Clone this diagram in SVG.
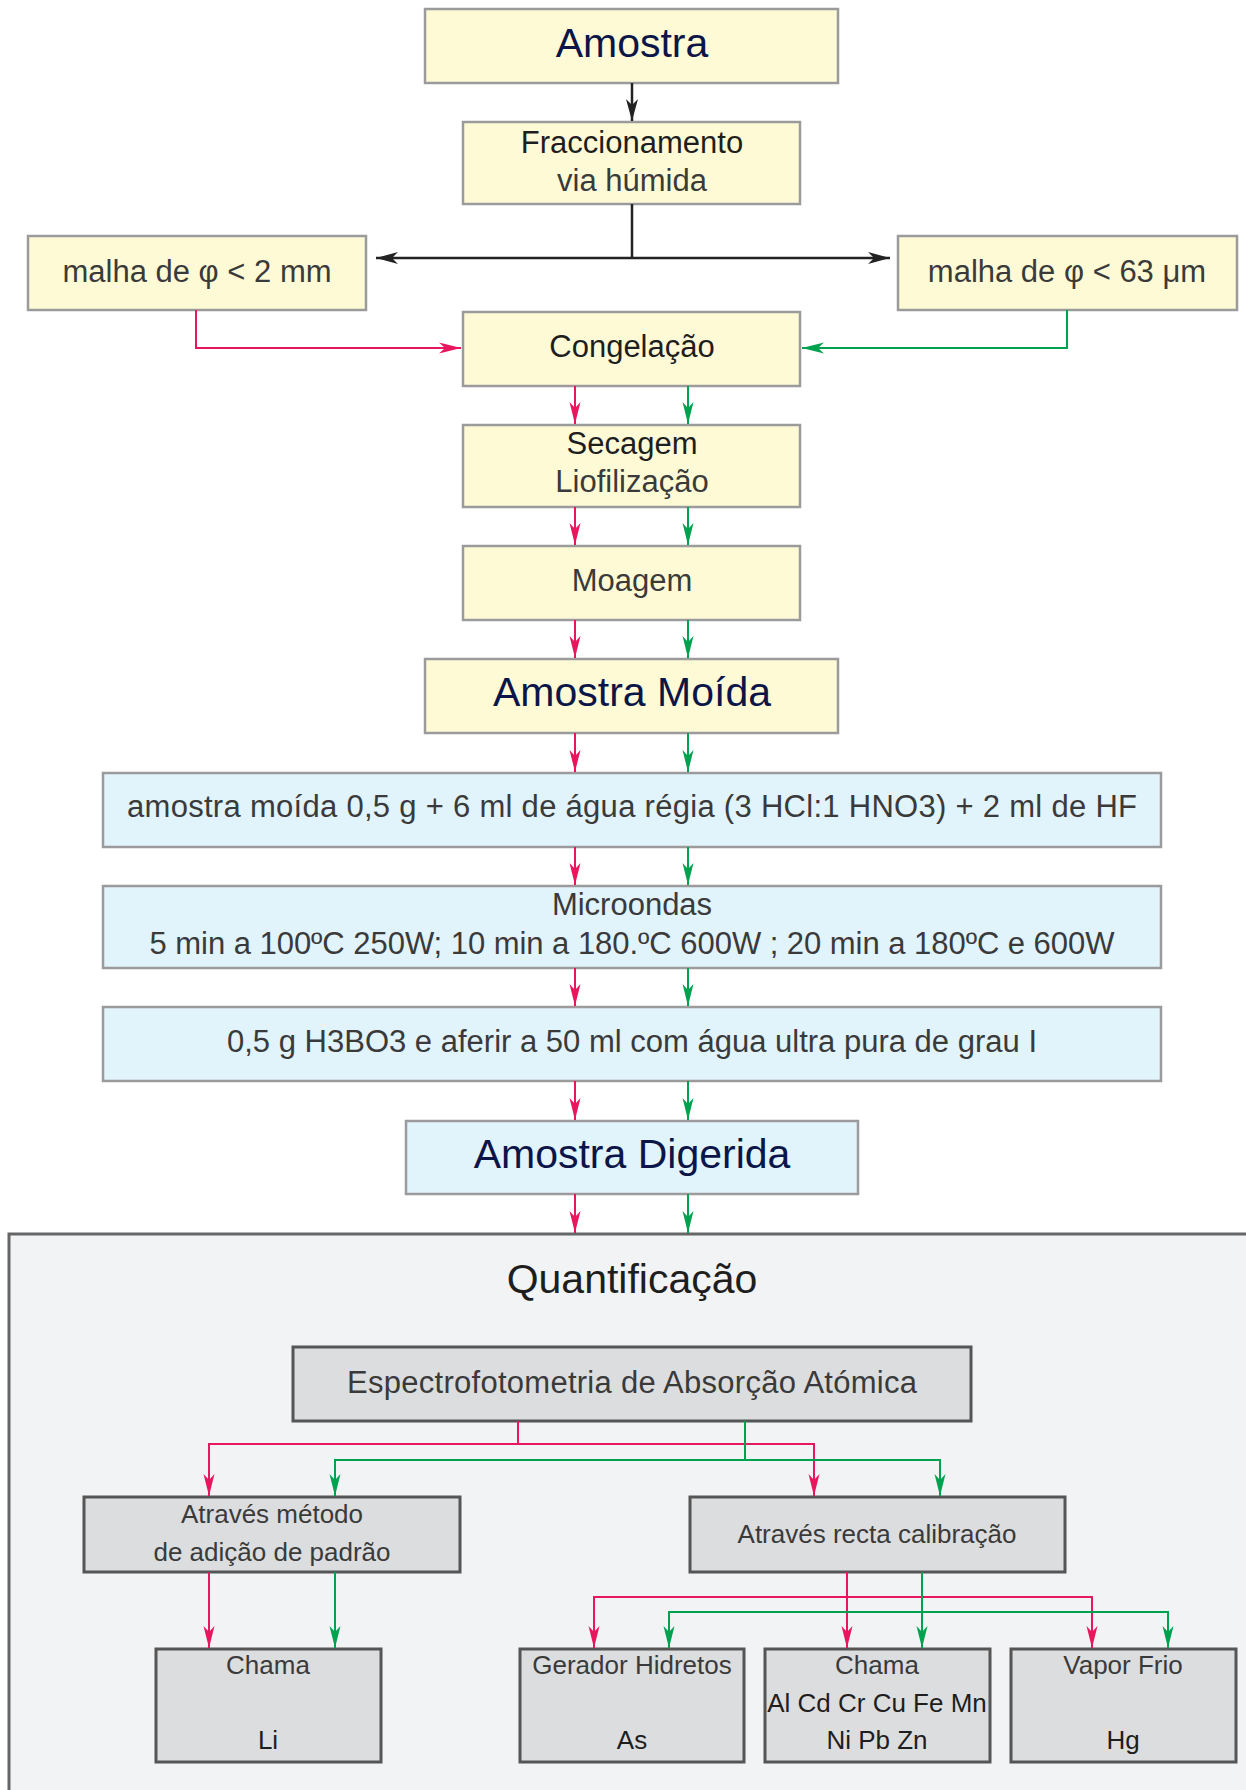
<svg xmlns="http://www.w3.org/2000/svg" width="1246" height="1790" viewBox="0 0 1246 1790">
<defs>
<style>
.y{fill:#FFFAD6;stroke:#9B9B9B;stroke-width:2.5}
.b{fill:#E1F3FB;stroke:#9B9B9B;stroke-width:2.5}
.g{fill:#DCDDDF;stroke:#555;stroke-width:3}
.p{fill:#F2F3F5;stroke:#666;stroke-width:3}
text{font-family:"Liberation Sans",Arial,Helvetica,sans-serif;text-anchor:middle}
.t{font-size:41px;fill:#0C1548}
.q{font-size:41px;fill:#1E1E1E}
.m{font-size:31px;fill:#1E1E1E}
.l{font-size:31px;fill:#3A3A3A}
.s{font-size:26px;fill:#3A3A3A}
.sd{font-size:26px;fill:#1E1E1E}
.r{stroke:#E8175D;stroke-width:2;fill:none}
.gr{stroke:#00A24F;stroke-width:2;fill:none}
.k{stroke:#222;stroke-width:2.5;fill:none}
</style>
<marker id="ar" markerUnits="userSpaceOnUse" markerWidth="24" markerHeight="12" refX="22" refY="6" orient="auto"><path d="M0,0.5 L22,6 L0,11.5 L6,6 Z" fill="#E8175D"/></marker>
<marker id="ag" markerUnits="userSpaceOnUse" markerWidth="24" markerHeight="12" refX="22" refY="6" orient="auto"><path d="M0,0.5 L22,6 L0,11.5 L6,6 Z" fill="#00A24F"/></marker>
<marker id="ak" markerUnits="userSpaceOnUse" markerWidth="24" markerHeight="14" refX="22" refY="7" orient="auto"><path d="M0,1 L22,7 L0,13 L6,7 Z" fill="#222"/></marker>
</defs>
<rect width="1246" height="1790" fill="#FFFFFF"/>

<g id="panel-quantificacao">
<rect class="p" x="9" y="1234" width="1250" height="570"/>
<text class="q" x="632" y="1293">Quantificação</text>
</g>

<g id="n-amostra"><rect class="y" x="425" y="9" width="413" height="74"/><text class="t" x="632" y="57">Amostra</text></g>
<g id="n-fraccionamento"><rect class="y" x="463" y="122" width="337" height="82"/><text class="m" x="632" y="153">Fraccionamento</text><text class="l" x="632" y="191">via húmida</text></g>
<g id="n-malha2mm"><rect class="y" x="28" y="236" width="338" height="74"/><text class="l" x="197" y="282">malha de φ &lt; 2 mm</text></g>
<g id="n-malha63um"><rect class="y" x="898" y="236" width="339" height="74"/><text class="l" x="1067" y="282">malha de φ &lt; 63 μm</text></g>
<g id="n-congelacao"><rect class="y" x="463" y="312" width="337" height="74"/><text class="m" x="632" y="357">Congelação</text></g>
<g id="n-secagem"><rect class="y" x="463" y="425" width="337" height="82"/><text class="m" x="632" y="454">Secagem</text><text class="l" x="632" y="492">Liofilização</text></g>
<g id="n-moagem"><rect class="y" x="463" y="546" width="337" height="74"/><text class="l" x="632" y="591">Moagem</text></g>
<g id="n-amostra-moida"><rect class="y" x="425" y="659" width="413" height="74"/><text class="t" x="632" y="706">Amostra Moída</text></g>
<g id="n-reagentes"><rect class="b" x="103" y="773" width="1058" height="74"/><text class="l" x="632" y="817" textLength="1010">amostra moída 0,5 g + 6 ml de água régia (3 HCl:1 HNO3) + 2 ml de HF</text></g>
<g id="n-microondas"><rect class="b" x="103" y="886" width="1058" height="82"/><text class="l" x="632" y="915">Microondas</text><text class="l" x="632" y="954" textLength="965">5 min a 100ºC 250W; 10 min a 180.ºC 600W ; 20 min a 180ºC e 600W</text></g>
<g id="n-h3bo3"><rect class="b" x="103" y="1007" width="1058" height="74"/><text class="l" x="632" y="1052" textLength="810">0,5 g H3BO3 e aferir a 50 ml com água ultra pura de grau I</text></g>
<g id="n-amostra-digerida"><rect class="b" x="406" y="1121" width="452" height="73"/><text class="t" x="632" y="1168">Amostra Digerida</text></g>
<g id="n-eaa"><rect class="g" x="293" y="1347" width="678" height="74"/><text class="l" x="632" y="1393" textLength="570">Espectrofotometria de Absorção Atómica</text></g>
<g id="n-adicao"><rect class="g" x="84" y="1497" width="376" height="75"/><text class="s" x="272" y="1523">Através método</text><text class="s" x="272" y="1561">de adição de padrão</text></g>
<g id="n-recta"><rect class="g" x="690" y="1497" width="375" height="75"/><text class="s" x="877" y="1543">Através recta calibração</text></g>
<g id="n-chama-li"><rect class="g" x="156" y="1649" width="225" height="113"/><text class="s" x="268" y="1674">Chama</text><text class="sd" x="268" y="1749">Li</text></g>
<g id="n-hidretos"><rect class="g" x="520" y="1649" width="224" height="113"/><text class="s" x="632" y="1674">Gerador Hidretos</text><text class="sd" x="632" y="1749">As</text></g>
<g id="n-chama"><rect class="g" x="765" y="1649" width="225" height="113"/><text class="s" x="877" y="1674">Chama</text><text class="sd" x="877" y="1712">Al Cd Cr Cu Fe Mn</text><text class="sd" x="877" y="1749">Ni Pb Zn</text></g>
<g id="n-vapor"><rect class="g" x="1011" y="1649" width="225" height="113"/><text class="s" x="1123" y="1674">Vapor Frio</text><text class="sd" x="1123" y="1749">Hg</text></g>

<g id="connectors">
<line class="k" x1="632" y1="83" x2="632" y2="121" marker-end="url(#ak)"/>
<line class="k" x1="632" y1="204" x2="632" y2="258"/>
<line class="k" x1="632" y1="258" x2="376" y2="258" marker-end="url(#ak)"/>
<line class="k" x1="632" y1="258" x2="890" y2="258" marker-end="url(#ak)"/>
<polyline class="r" points="196,310 196,348 461,348" marker-end="url(#ar)"/>
<polyline class="gr" points="1067,310 1067,348 802,348" marker-end="url(#ag)"/>

<line class="r" x1="575" y1="386" x2="575" y2="424" marker-end="url(#ar)"/>
<line class="gr" x1="688" y1="386" x2="688" y2="424" marker-end="url(#ag)"/>
<line class="r" x1="575" y1="507" x2="575" y2="545" marker-end="url(#ar)"/>
<line class="gr" x1="688" y1="507" x2="688" y2="545" marker-end="url(#ag)"/>
<line class="r" x1="575" y1="620" x2="575" y2="658" marker-end="url(#ar)"/>
<line class="gr" x1="688" y1="620" x2="688" y2="658" marker-end="url(#ag)"/>
<line class="r" x1="575" y1="733" x2="575" y2="772" marker-end="url(#ar)"/>
<line class="gr" x1="688" y1="733" x2="688" y2="772" marker-end="url(#ag)"/>
<line class="r" x1="575" y1="847" x2="575" y2="885" marker-end="url(#ar)"/>
<line class="gr" x1="688" y1="847" x2="688" y2="885" marker-end="url(#ag)"/>
<line class="r" x1="575" y1="968" x2="575" y2="1006" marker-end="url(#ar)"/>
<line class="gr" x1="688" y1="968" x2="688" y2="1006" marker-end="url(#ag)"/>
<line class="r" x1="575" y1="1081" x2="575" y2="1120" marker-end="url(#ar)"/>
<line class="gr" x1="688" y1="1081" x2="688" y2="1120" marker-end="url(#ag)"/>
<line class="r" x1="575" y1="1194" x2="575" y2="1233" marker-end="url(#ar)"/>
<line class="gr" x1="688" y1="1194" x2="688" y2="1233" marker-end="url(#ag)"/>

<polyline class="r" points="518,1421 518,1444"/>
<polyline class="r" points="209,1496 209,1444 814,1444 814,1496"/>
<line class="r" x1="209" y1="1444" x2="209" y2="1496" marker-end="url(#ar)"/>
<line class="r" x1="814" y1="1444" x2="814" y2="1496" marker-end="url(#ar)"/>
<polyline class="gr" points="745,1421 745,1460"/>
<polyline class="gr" points="335,1496 335,1460 940,1460 940,1496"/>
<line class="gr" x1="335" y1="1460" x2="335" y2="1496" marker-end="url(#ag)"/>
<line class="gr" x1="940" y1="1460" x2="940" y2="1496" marker-end="url(#ag)"/>

<line class="r" x1="209" y1="1572" x2="209" y2="1648" marker-end="url(#ar)"/>
<line class="gr" x1="335" y1="1572" x2="335" y2="1648" marker-end="url(#ag)"/>

<line class="r" x1="847" y1="1572" x2="847" y2="1648" marker-end="url(#ar)"/>
<polyline class="r" points="594,1648 594,1597 1092,1597 1092,1648"/>
<line class="r" x1="594" y1="1597" x2="594" y2="1648" marker-end="url(#ar)"/>
<line class="r" x1="1092" y1="1597" x2="1092" y2="1648" marker-end="url(#ar)"/>
<line class="gr" x1="922" y1="1572" x2="922" y2="1648" marker-end="url(#ag)"/>
<polyline class="gr" points="669,1648 669,1612 1168,1612 1168,1648"/>
<line class="gr" x1="669" y1="1612" x2="669" y2="1648" marker-end="url(#ag)"/>
<line class="gr" x1="1168" y1="1612" x2="1168" y2="1648" marker-end="url(#ag)"/>
</g>
</svg>
